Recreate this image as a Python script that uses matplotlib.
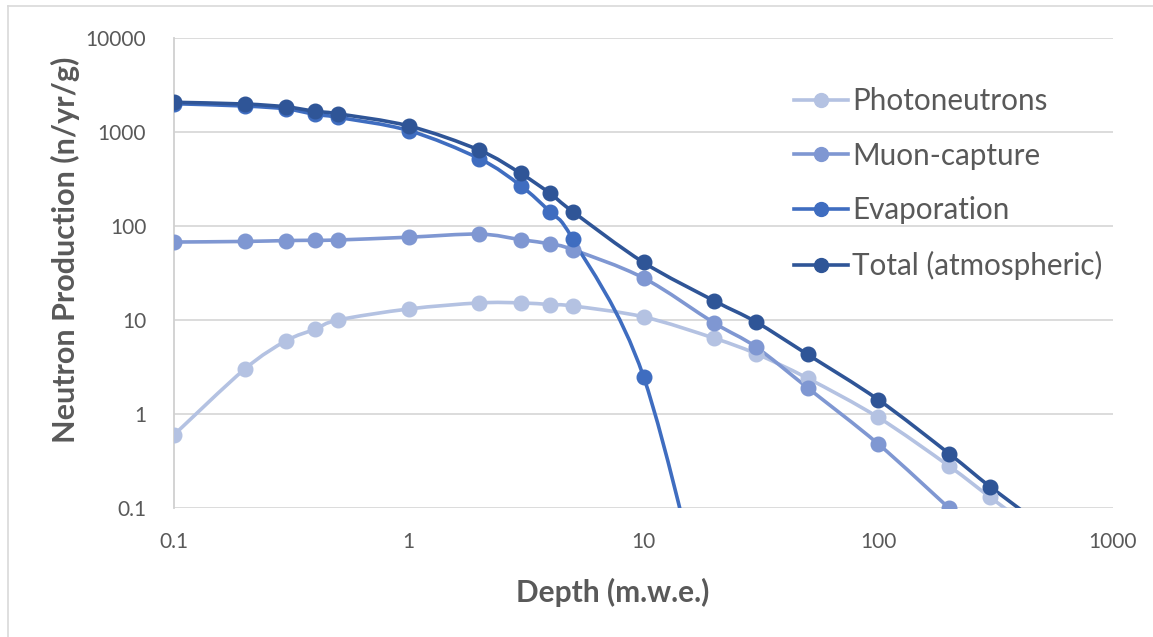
import numpy as np
import matplotlib
matplotlib.use("Agg")
import matplotlib.pyplot as plt
from matplotlib.path import Path
from matplotlib.patches import PathPatch
from matplotlib.lines import Line2D

# Depth (m.w.e.) and neutron production rates (n/yr/g)
depth = [0.1, 0.2, 0.3, 0.4, 0.5, 1, 2, 3, 4, 5, 10, 20, 30, 50, 100, 200, 300, 500]
photoneutrons = [0.6, 3.0, 6.0, 8.0, 10.0, 13.1, 15.2, 15.2, 14.6, 14.1, 10.8,
                 6.4, 4.4, 2.4, 0.92, 0.28, 0.13, 0.05]
muon_capture = [67.5, 68.5, 70, 70.5, 71, 76, 82, 71.5, 64.5, 56, 28,
                9.3, 5.2, 1.9, 0.48, 0.1]
evaporation = [2000, 1890, 1760, 1540, 1430, 1035, 520, 268, 140, 72, 2.5, 0.003]
total = [2070, 1985, 1850, 1660, 1560, 1160, 640, 362, 222, 142, 41,
         16, 9.6, 4.3, 1.42, 0.38, 0.168, 0.065]

series = [
    ("Photoneutrons", photoneutrons, "#B4C2E2"),
    ("Muon-capture", muon_capture, "#7F97D2"),
    ("Evaporation", evaporation, "#3F6DC0"),
    ("Total (atmospheric)", total, "#2F5597"),
]

W, H, DPI = 1153, 637, 100
fig = plt.figure(figsize=(W / DPI, H / DPI), dpi=DPI)
fig.patch.set_facecolor("white")

# chart frame
fig.add_artist(Line2D([8 / W, 8 / W], [0, 1 - 6 / H], transform=fig.transFigure,
                      color="#D9D9D9", lw=1.2))
fig.add_artist(Line2D([8 / W, 1], [1 - 6 / H, 1 - 6 / H], transform=fig.transFigure,
                      color="#D9D9D9", lw=1.2))

ax = fig.add_axes([174 / W, 1 - 508 / H, (1113 - 174) / W, (508 - 38) / H])
ax.set_xscale("log")
ax.set_yscale("log")
ax.set_xlim(0.1, 1000)
ax.set_ylim(0.1, 10000)

for s in ["top", "right", "bottom"]:
    ax.spines[s].set_visible(False)
ax.spines["left"].set_color("#D0D0D0")
ax.spines["left"].set_linewidth(1.3)
ax.yaxis.grid(True, which="major", color="#D9D9D9", lw=1.3)
ax.xaxis.grid(False)
ax.yaxis.grid(False, which="minor")
ax.set_axisbelow(True)

ax.set_xticks([0.1, 1, 10, 100, 1000])
ax.set_xticklabels(["0.1", "1", "10", "100", "1000"])
ax.set_yticks([0.1, 1, 10, 100, 1000, 10000])
ax.set_yticklabels(["0.1", "1", "10", "100", "1000", "10000"])
ax.minorticks_off()
ax.tick_params(length=0, labelsize=15, labelcolor="#595959")
ax.tick_params(axis="x", pad=17)
ax.tick_params(axis="y", pad=20)
for lab in ax.get_xticklabels() + ax.get_yticklabels():
    lab.set_fontfamily("Lato")


def smooth_path(xs, ys, tension=1 / 6):
    """Cubic Bezier through the points, control points built in log-log space."""
    lx = np.log10(np.asarray(xs, float))
    ly = np.log10(np.asarray(ys, float))
    P = np.column_stack([lx, ly])
    n = len(P)
    verts = [P[0]]
    codes = [Path.MOVETO]
    for i in range(n - 1):
        p0 = P[i - 1] if i > 0 else P[i]
        p1 = P[i]
        p2 = P[i + 1]
        p3 = P[i + 2] if i + 2 < n else P[i + 1]
        c1 = p1 + (p2 - p0) * tension
        c2 = p2 - (p3 - p1) * tension
        verts += [c1, c2, p2]
        codes += [Path.CURVE4] * 3
    verts = 10 ** np.array(verts)
    return Path(verts, codes)


handles = []
for name, vals, col in series:
    xs = depth[:len(vals)]
    patch = PathPatch(smooth_path(xs, vals), facecolor="none", edgecolor=col,
                      lw=2.6, transform=ax.transData, capstyle="round",
                      joinstyle="round", zorder=3)
    ax.add_patch(patch)
    ax.plot(xs, vals, "o", color=col, ms=10.5, mec=col, zorder=4)
    handles.append(Line2D([], [], color=col, lw=2.6, marker="o", ms=10, label=name))

leg = ax.legend(handles=handles, loc="upper left", bbox_to_anchor=(0.66, 0.896),
                frameon=False, fontsize=21.3, labelspacing=0.9, handlelength=1.83,
                handletextpad=0.15, borderaxespad=0, borderpad=0)
for t in leg.get_texts():
    t.set_color("#595959")
    t.set_fontfamily("Lato")

fig.text(65 / W, 1 - 250 / H, "Neutron Production (n/yr/g)", rotation=90,
         ha="center", va="center", fontsize=22, fontweight="bold",
         color="#595959", family="Lato")
fig.text(613 / W, 1 - 592 / H, "Depth (m.w.e.)", ha="center", va="center",
         fontsize=21.5, fontweight="bold", color="#595959", family="Lato")

fig.savefig("out.png", dpi=DPI)
